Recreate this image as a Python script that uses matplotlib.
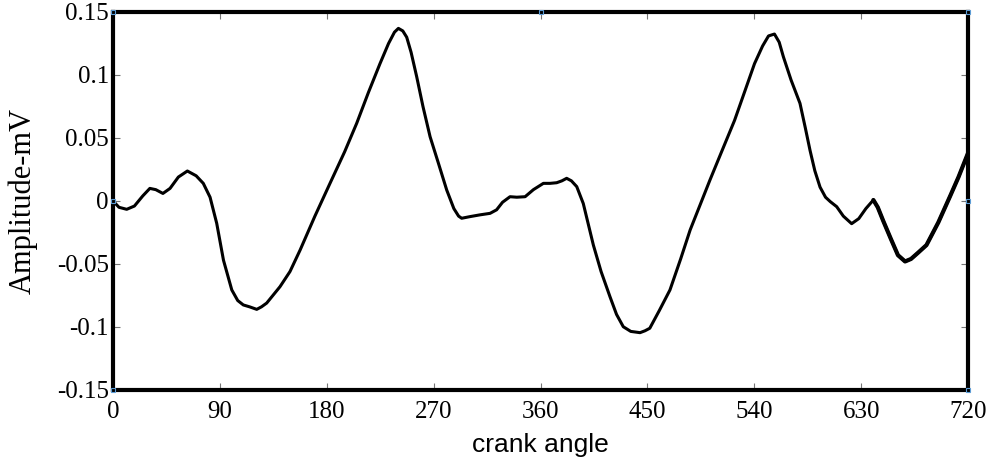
import matplotlib
matplotlib.use('Agg')
import matplotlib.pyplot as plt
import numpy as np

# crank angle (deg) and amplitude (mV)
angle = [0, 5, 11.5, 18, 25, 31, 36, 42, 48, 55, 62.6, 70, 76, 81.7, 87.3, 93, 100, 105,
         109.7, 115, 121, 125, 129.4, 140.6, 149, 157.5, 170, 182.7, 195, 205.2, 215, 224.8,
         232, 237, 240.3, 244, 247.3, 251, 255.7, 261, 267, 274, 281, 287, 291, 293.6, 300.6,
         309, 317.5, 323, 328, 334.3, 340, 347, 354, 362.4, 368, 373.6, 378, 382, 386, 390.5,
         396, 404.5, 411, 418.5, 424, 429.7, 436, 443.8, 448, 452, 460, 469, 478, 486, 494,
         502.7, 512, 523.4, 532, 540.2, 547, 552, 557, 561, 564.5, 571, 578.5, 583, 587, 591,
         595.4, 600, 604, 609.4, 615, 622, 628, 634, 640.3, 644, 648.7, 655, 661, 667, 672,
         678, 685, 695, 705, 712, 720]
amp = [0.0, -0.005, -0.0066, -0.004, 0.004, 0.010, 0.009, 0.006, 0.010, 0.019, 0.0238, 0.020,
       0.014, 0.003, -0.0177, -0.047, -0.0706, -0.079, -0.0825, -0.084, -0.086, -0.084, -0.081,
       -0.068, -0.056, -0.039, -0.012, 0.014, 0.039, 0.0617, 0.086, 0.109, 0.125, 0.134, 0.137,
       0.135, 0.130, 0.118, 0.0987, 0.075, 0.051, 0.030, 0.0087, -0.006, -0.012, -0.0137,
       -0.0124, -0.011, -0.0098, -0.007, -0.001, 0.0034, 0.003, 0.0034, 0.009, 0.014, 0.014,
       0.0145, 0.016, 0.018, 0.016, 0.0114, -0.002, -0.035, -0.056, -0.076, -0.090, -0.0998,
       -0.1035, -0.1045, -0.103, -0.101, -0.087, -0.0706, -0.046, -0.023, -0.004, 0.0167, 0.038,
       0.064, 0.087, 0.109, 0.123, 0.131, 0.1325, 0.126, 0.1145, 0.096, 0.0775, 0.058, 0.040,
       0.024, 0.011, 0.003, -0.0005, -0.0045, -0.012, -0.018, -0.014, -0.006, 0.0008, -0.005,
       -0.016, -0.030, -0.043, -0.048, -0.046, -0.041, -0.035, -0.017, 0.004, 0.019, 0.038]

xticks = [0, 90, 180, 270, 360, 450, 540, 630, 720]
yticks = [-0.15, -0.1, -0.05, 0, 0.05, 0.1, 0.15]
ytick_labels = ['-0.15', '-0.1', '-0.05', '0', '0.05', '0.1', '0.15']

# little blue corner markers visible in the original
mark_x = [0, 0, 360, 720, 720, 720, 0]
mark_y = [0, 0.15, 0.15, 0.15, 0, -0.15, -0.15]

fig = plt.figure(figsize=(9.96, 4.65), dpi=100)
ax = fig.add_axes([0.1135, 0.1613, 0.8584, 0.8129])

ax.plot(angle, amp, color='black', lw=2.2, solid_capstyle='round', solid_joinstyle='round')
# tail is drawn heavier in the reference
tail = angle.index(640.3)
ax.plot(angle[tail:], amp[tail:], color='black', lw=3.0,
        solid_capstyle='round', solid_joinstyle='round')

ax.plot(mark_x, mark_y, ls='none', marker='s', ms=3, mfc='none', mec='#5b9bd5',
        mew=0.8, clip_on=False, zorder=5)

ax.set_xlim(0, 720)
ax.set_ylim(-0.15, 0.15)
ax.set_xticks(xticks)
ax.set_yticks(yticks)
ax.set_yticklabels(ytick_labels)

for sp in ax.spines.values():
    sp.set_linewidth(3)

ax.tick_params(direction='in', length=5, width=0.8, color='#777777',
               top=True, right=True, labelsize=18)
for lab in ax.get_xticklabels() + ax.get_yticklabels():
    lab.set_family('Liberation Serif')
ax.tick_params(axis='x', pad=8)
ax.tick_params(axis='y', pad=3)

ax.set_xlabel('crank angle', fontsize=19, family='Liberation Sans', labelpad=7)
ax.set_ylabel('Amplitude-mV', fontsize=22, family='Liberation Serif', labelpad=14)

fig.savefig('out.png', dpi=100)
